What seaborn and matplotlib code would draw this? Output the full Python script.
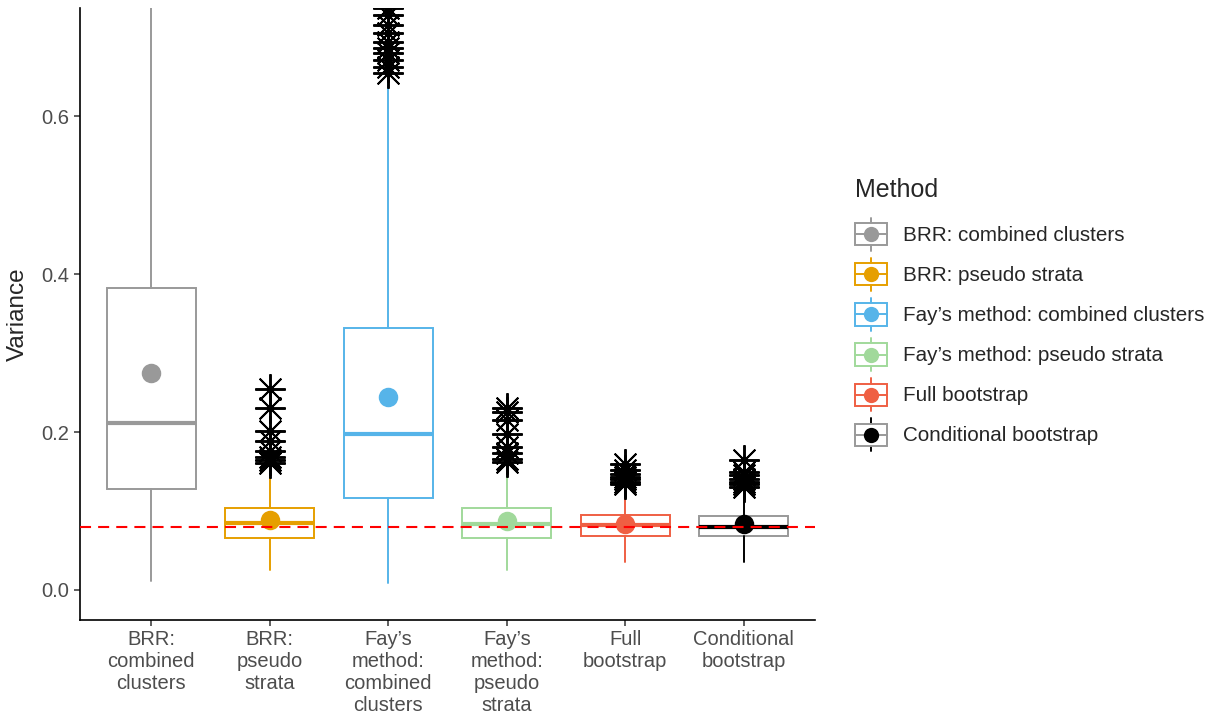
import numpy as np
import matplotlib.pyplot as plt
import seaborn as sns
from matplotlib.legend_handler import HandlerBase
from matplotlib.patches import Rectangle
from matplotlib.lines import Line2D

# Data
methods = ["BRR: combined clusters", "BRR: pseudo strata",
           "Fay\u2019s method: combined clusters", "Fay\u2019s method: pseudo strata",
           "Full bootstrap", "Conditional bootstrap"]
tick_labels = ["BRR:\ncombined\nclusters", "BRR:\npseudo\nstrata",
               "Fay\u2019s\nmethod:\ncombined\nclusters", "Fay\u2019s\nmethod:\npseudo\nstrata",
               "Full\nbootstrap", "Conditional\nbootstrap"]
whisker_low = [0.011, 0.025, 0.009, 0.025, 0.036, 0.036]
q1 = [0.128, 0.066, 0.117, 0.066, 0.069, 0.068]
median = [0.211, 0.085, 0.198, 0.084, 0.082, 0.080]
q3 = [0.382, 0.104, 0.332, 0.104, 0.095, 0.094]
whisker_high = [0.760, 0.158, 0.650, 0.158, 0.132, 0.131]
means = [0.275, 0.088, 0.245, 0.087, 0.083, 0.083]
outliers = [
    [],
    [0.254, 0.231, 0.201, 0.189, 0.176, 0.169, 0.164, 0.161],
    [0.737, 0.728, 0.715, 0.705, 0.694, 0.686, 0.680, 0.671, 0.662, 0.655],
    [0.231, 0.225, 0.215, 0.198, 0.181, 0.174, 0.166, 0.162],
    [0.160, 0.152, 0.147, 0.143, 0.140, 0.137, 0.134],
    [0.165, 0.150, 0.145, 0.141, 0.137, 0.134, 0.131],
]
true_variance = 0.08

box_colors = ["#999999", "#E69F00", "#56B4E9", "#A1D99B", "#EF5F43", "#999999"]
line_colors = ["#999999", "#E69F00", "#56B4E9", "#A1D99B", "#EF5F43", "#000000"]

sns.set_theme(style="ticks")
plt.rcParams['font.family'] = ['Liberation Sans', 'DejaVu Sans']

fig = plt.figure(figsize=(12.15, 7.17), dpi=100)
ax = fig.add_axes([0.0658, 0.1353, 0.605, 0.8535])

# Boxplots from summary statistics
stats = []
for i in range(len(methods)):
    stats.append(dict(whislo=whisker_low[i], q1=q1[i], med=median[i], q3=q3[i],
                      whishi=whisker_high[i], fliers=np.array(outliers[i])))
bp = ax.bxp(stats, positions=range(len(methods)), widths=0.75, showcaps=False,
            patch_artist=True,
            boxprops=dict(facecolor='white', linewidth=1.4),
            medianprops=dict(linewidth=3),
            whiskerprops=dict(linewidth=1.4),
            flierprops=dict(marker=(8, 2, 0), markersize=22, markeredgecolor='black',
                            markeredgewidth=1.4, linestyle='none'))
for i in range(len(methods)):
    bp['boxes'][i].set_edgecolor(box_colors[i])
    bp['whiskers'][2 * i].set_color(line_colors[i])
    bp['whiskers'][2 * i + 1].set_color(line_colors[i])
    bp['medians'][i].set_color(line_colors[i])

ax.axhline(true_variance, color='red', linestyle=(0, (5.3, 3.4)), linewidth=1.5, zorder=3)

# Mean points
sns.pointplot(x=tick_labels, y=means, hue=tick_labels, palette=line_colors,
              linestyle='none', markers='o', markersize=12, legend=False, ax=ax)
for c in ax.collections + ax.lines[-6:]:
    c.set_zorder(5)

ax.set_xlim(-0.6, 5.6)
ax.set_ylim(-0.038, 0.737)
ax.set_yticks([0.0, 0.2, 0.4, 0.6], ["0.0", "0.2", "0.4", "0.6"])
ax.set_xticks(range(len(methods)), tick_labels)
for t in ax.get_xticklabels():
    t.set_linespacing(1.18)
ax.set_xlabel("")
ax.set_ylabel("Variance", fontsize=17.5, labelpad=9)
ax.tick_params(axis='both', labelsize=14.5, colors='#333333', labelcolor='#4D4D4D',
               length=4, width=1.1)
sns.despine(ax=ax)
for s in ['left', 'bottom']:
    ax.spines[s].set_linewidth(1.2)
    ax.spines[s].set_color('black')


# Legend key like ggplot's boxplot + point glyph
class KeySpec:
    def __init__(self, edge, line):
        self.edge = edge
        self.line = line


class BoxKeyHandler(HandlerBase):
    def create_artists(self, legend, orig_handle, xdescent, ydescent, width, height,
                       fontsize, trans):
        x0, y0 = -xdescent, -ydescent
        cx, cy = x0 + width / 2, y0 + height / 2
        bh = height * 0.68
        rect = Rectangle((x0, cy - bh / 2), width, bh, facecolor='white',
                         edgecolor=orig_handle.edge, linewidth=1.4, transform=trans)
        med = Line2D([x0, x0 + width], [cy, cy], color=orig_handle.edge, linewidth=1.4,
                     transform=trans)
        whisk = Line2D([cx, cx], [y0, y0 + height], color=orig_handle.line, linewidth=1.4,
                       transform=trans)
        dot = Line2D([cx], [cy], marker='o', markersize=11, color=orig_handle.line,
                     markeredgewidth=0, linestyle='none', transform=trans)
        return [whisk, rect, med, dot]


handles = [KeySpec(box_colors[i], line_colors[i]) for i in range(len(methods))]
leg = fig.legend(handles, methods, handler_map={KeySpec: BoxKeyHandler()},
                 loc='upper left', bbox_to_anchor=(848 / 1215, 1 - 171 / 717),
                 frameon=False, fontsize=14.9, title="Method", title_fontsize=18,
                 alignment='left', handlelength=1.55, handleheight=2.07,
                 handletextpad=0.75, labelspacing=0.35, borderpad=0.34, borderaxespad=0)
# a bit more room between the title and the first key
leg._legend_box.sep = 0.35 * 14.9 + 6

fig.savefig("out.png", dpi=100)
